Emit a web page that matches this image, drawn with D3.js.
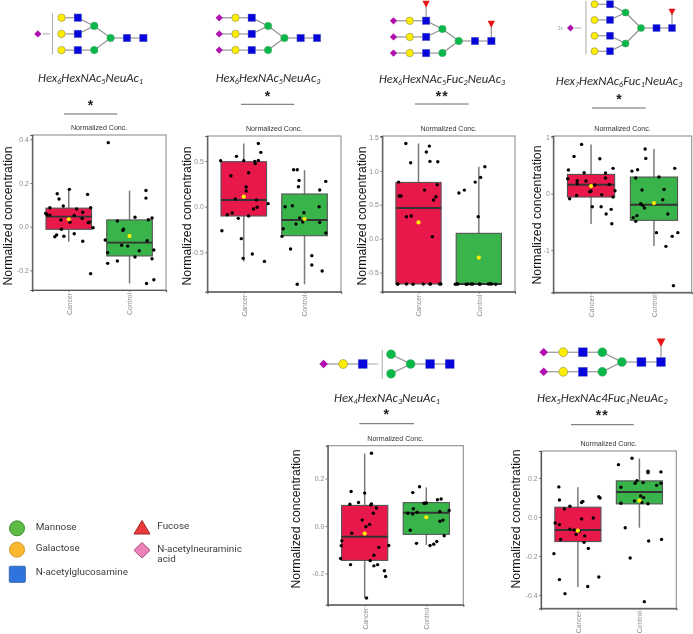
<!DOCTYPE html>
<html><head><meta charset="utf-8">
<script src="https://cdn.jsdelivr.net/npm/d3@7"></script>
<style>html,body{margin:0;background:#fff}svg{display:block;filter:blur(.35px)}</style></head>
<body><svg id="c" width="693" height="634"></svg>
<script>
// ---------- data ----------
const categories = ["Cancer", "Control"];
const yLabel = "Normalized concentration", panelTitle = "Normalized Conc.";

// box stats: [whiskerLow, q1, median, q3, whiskerHigh, mean]
const p1CancerBox=[-.069,-.012,.046,.085,.171,.034], p1ControlBox=[-.26,-.134,-.073,.031,.165,-.043];
const p1CancerX=[-.38,-.36,-.31,-.31,-.19,-.16,-.09,.13,.23,.31,.01,.36,.09,.22,-.13,.02,.32,.34,.40,-.12,-.20,-.23,-.08,.09,.23,.36];
const p1CancerY=[.061,.055,.087,.053,.151,.127,.095,.081,.066,.148,.171,.087,.052,.038,.031,.02,.018,.021,-.005,-.012,-.038,-.046,-.044,-.032,-.067,-.215];
const p1ControlX=[-.35,.27,.27,.09,.37,.31,-.20,-.10,-.11,-.40,.29,-.13,-.03,.16,.40,-.36,.09,.37,-.20,-.36,.28,.40];
const p1ControlY=[.385,.166,.131,.043,.04,.032,.026,-.012,-.017,-.061,-.064,-.085,-.089,-.11,-.107,-.119,-.139,-.147,-.157,-.168,-.26,-.243];

const p2CancerBox=[-.60,-.102,.073,.493,.693,.11], p2ControlBox=[-.85,-.318,-.146,.139,.40,-.135];
const p2CancerX=[.24,.28,-.12,-.38,0,.18,.24,.19,-.21,.08,.04,.04,-.14,.21,.40,.22,.16,-.19,-.27,.08,-.09,-.36,-.04,-.01,.14,.34];
const p2CancerY=[.693,.595,.551,.504,.504,.496,.507,.471,.339,.372,.215,.172,.084,.073,.033,-.007,-.026,-.069,-.088,-.102,-.128,-.263,-.35,-.566,-.518,-.599];
const p2ControlX=[-.18,-.12,-.09,-.10,.35,.25,-.32,-.20,.24,-.01,-.08,-.03,-.14,.25,-.35,.35,-.37,-.23,.12,.12,.29,-.12];
const p2ControlY=[.405,.405,.288,.219,.277,.182,0,.011,0,-.066,-.124,-.168,-.19,-.172,-.241,-.288,-.325,-.464,-.536,-.639,-.704,-.85];

const p3CancerBox=[-.668,-.668,.452,.83,1.405,.24], p3ControlBox=[-.668,-.668,-.668,.079,1.061,-.28];
const p3CancerX=[-.21,.18,.13,-.13,.19,.32,-.33,.31,.10,-.32,-.29,.29,.25,-.20,-.12,.23,-.35,-.34,-.20,-.09,.08,.19,.20,.35,.37];
const p3CancerY=[1.405,1.366,1.278,1.12,1.14,1.135,.835,.796,.717,.629,.629,.619,.57,.324,.334,.03,-.668,-.668,-.668,-.672,-.668,-.668,-.668,-.668,-.668];
const p3ControlX=[.10,.03,-.06,-.24,-.33,-.01,-.39,-.36,-.35,-.21,-.19,-.13,-.10,.01,.02,.16,.19,.21,.28];
const p3ControlY=[1.061,.904,.835,.717,.673,.324,-.672,-.668,-.668,-.672,-.668,-.668,-.668,-.668,-.672,-.668,-.665,-.668,-.672];

const p4CancerBox=[-.538,-.059,.16,.343,.876,.136], p4ControlBox=[-.93,-.473,-.195,.296,.793,-.166];
const p4CancerX=[-.15,-.27,.14,.35,-.36,-.11,.23,-.37,.23,-.22,-.08,-.22,.06,.29,0,-.02,.38,.17,-.23,.35,-.34,.02,.16,.32,.24,.33];
const p4CancerY=[.876,.663,.621,.45,.42,.373,.367,.266,.278,.231,.225,.178,.154,.166,.047,.036,.053,-.018,-.03,-.059,-.089,-.231,-.231,-.278,-.361,-.533];
const p4ControlX=[-.14,-.13,-.26,-.35,.33,-.29,.08,-.19,.16,.14,-.21,-.18,-.15,.22,-.27,-.33,-.29,.04,.38,.29,.19,.31];
const p4ControlY=[.793,.627,.426,.402,.45,.278,.296,.065,.077,-.107,-.178,-.207,-.254,-.361,-.39,-.426,-.491,-.692,-.692,-.757,-.935,-1.633];

const p5CancerBox=[-.304,-.145,-.045,.087,.306,-.032], p5ControlBox=[-.08,-.035,.056,.099,.163,.037];
const p5CancerX=[.11,-.22,0,-.10,-.24,.11,.10,.19,.14,-.04,.08,.02,-.21,-.37,-.38,.39,.23,.15,-.39,.09,-.23,.21,.15,.32,.34,.03];
const p5CancerY=[.307,.146,.139,.099,.092,.093,.089,.076,.054,.025,.007,-.003,-.03,-.062,-.083,-.082,-.09,-.123,-.137,-.146,-.163,-.163,-.168,-.189,-.213,-.304];
const p5ControlX=[-.11,-.22,.18,.24,-.04,0,-.02,-.21,.37,.22,-.30,-.22,-.15,.27,.22,-.26,.29,-.16,.06,.12,.17];
const p5ControlY=[.166,.141,.111,.114,.096,.097,.096,.073,.066,.061,.054,.051,.058,.025,.02,-.018,-.041,-.073,-.082,-.077,-.065];

const p6CancerBox=[-.359,-.126,-.067,.05,.152,-.07], p6ControlBox=[-.055,.067,.128,.185,.299,.084];
const p6CancerX=[-.31,-.30,.34,.36,.08,.06,-.13,-.22,.25,.06,-.37,-.30,-.13,-.06,.02,-.03,.11,-.28,.10,.17,-.39,.34,-.30,.16,-.21];
const p6CancerY=[.154,.087,.104,.097,.08,.074,.055,.041,-.005,-.01,-.031,-.039,-.063,-.067,-.074,-.089,-.097,-.115,-.13,-.161,-.188,-.308,-.321,-.356,-.393];
const p6ControlX=[-.12,-.34,.14,.14,.35,-.04,-.07,.06,-.30,.28,.35,.02,.07,-.08,.04,-.30,.14,-.23,.15,.36,-.15,.08];
const p6ControlY=[.301,.268,.234,.227,.231,.186,.173,.176,.152,.162,.173,.108,.099,.082,.074,.07,.068,-.055,-.123,-.115,-.21,-.434];

const legendItems=["Mannose","Galactose","N-acetylglucosamine","Fucose","N-acetylneuraminic acid"];

// ---------- layout ----------
const f1=v=>d3.format(".1f")(v).replace("\u2212","-"), f0=v=>String(v);
const panels=[
 {x:[32.3,166],  y:[135,290],    dom:[.42,-.29],    ticks:[.4,.2,0,-.2],        fmt:f1, tx:12,  ty:216, d:[p1CancerBox,p1ControlBox,p1CancerX,p1CancerY,p1ControlX,p1ControlY]},
 {x:[207.3,341], y:[136,291.7],  dom:[.774,-.931],  ticks:[.5,0,-.5],           fmt:f1, tx:191, ty:216, d:[p2CancerBox,p2ControlBox,p2CancerX,p2CancerY,p2ControlX,p2ControlY]},
 {x:[382.3,515], y:[136,291.7],  dom:[1.515,-.782], ticks:[1.5,1,.5,0,-.5],     fmt:f1, tx:366, ty:216, d:[p3CancerBox,p3ControlBox,p3CancerX,p3CancerY,p3ControlX,p3ControlY]},
 {x:[553.3,691.7],y:[136,292.3], dom:[1.025,-1.751],ticks:[1,0,-1],             fmt:f0, tx:541, ty:215, d:[p4CancerBox,p4ControlBox,p4CancerX,p4CancerY,p4ControlX,p4ControlY]},
 {x:[327.7,463.3],y:[445.7,604.7],dom:[.339,-.332], ticks:[.2,0,-.2],           fmt:f1, tx:300, ty:519, d:[p5CancerBox,p5ControlBox,p5CancerX,p5CancerY,p5ControlX,p5ControlY]},
 {x:[541,676.3], y:[451,608.3],  dom:[.338,-.468],  ticks:[.2,0,-.2,-.4],       fmt:f1, tx:519.5,ty:519,d:[p6CancerBox,p6ControlBox,p6CancerX,p6CancerY,p6ControlX,p6ControlY]}
];
const svg=d3.select("#c");
const FILL=["#e8184b","#39b44a"];
const sans="'Liberation Sans',Arial,sans-serif";

panels.forEach(p=>{
  const g=svg.append("g");
  const x=d3.scaleLinear().domain([.4,2.6]).range(p.x);
  const y=d3.scaleLinear().domain(p.dom).range(p.y);
  g.append("rect").attr("x",p.x[0]).attr("y",p.y[0]).attr("width",p.x[1]-p.x[0]).attr("height",p.y[1]-p.y[0])
    .attr("fill","#fff").attr("stroke","#8f8f8f").attr("stroke-width",1.1);
  const ax=g.append("g").attr("transform",`translate(${p.x[0]},0)`)
    .call(d3.axisLeft(y).tickValues(p.ticks).tickFormat(p.fmt).tickSize(2).tickPadding(1.5));
  const bx=g.append("g").attr("transform",`translate(0,${p.y[1]})`)
    .call(d3.axisBottom(x).tickValues([1,2]).tickFormat(i=>categories[i-1]).tickSize(2));
  [ax,bx].forEach(a=>{a.select(".domain").attr("stroke","#555").attr("stroke-width",1.2);a.selectAll(".tick line").attr("stroke","#777");
    a.selectAll("text").attr("fill","#8a8a8a").attr("font-family",sans).attr("font-size",6.8);});
  bx.selectAll("text").attr("transform","rotate(-90)").attr("text-anchor","end").attr("x",-3).attr("y",0).attr("dy","0.35em");
  g.append("text").text(panelTitle).attr("x",(p.x[0]+p.x[1])/2).attr("y",p.y[0]-5).attr("text-anchor","middle")
    .attr("font-family",sans).attr("font-size",7.1).attr("fill","#333");
  g.append("text").text(yLabel).attr("transform",`translate(${p.tx},${p.ty}) rotate(-90)`).attr("text-anchor","middle")
    .attr("font-family",sans).attr("font-size",13).attr("fill","#111").attr("textLength",139).attr("lengthAdjust","spacingAndGlyphs");
  [0,1].forEach(i=>{
    const b=p.d[i], c=i+1, hw=.375;
    g.append("line").attr("x1",x(c)).attr("x2",x(c)).attr("y1",y(b[0])).attr("y2",y(b[4])).attr("stroke","#7a7a7a").attr("stroke-width",1.5);
    g.append("rect").attr("x",x(c-hw)).attr("width",x(c+hw)-x(c-hw)).attr("y",y(b[3])).attr("height",y(b[1])-y(b[3]))
      .attr("fill",FILL[i]).attr("stroke","#555").attr("stroke-width",1.1);
    g.append("line").attr("x1",x(c-hw)).attr("x2",x(c+hw)).attr("y1",y(b[2])).attr("y2",y(b[2])).attr("stroke","#333").attr("stroke-width",1.9);
    const xs=p.d[2+i*2], ys=p.d[3+i*2];
    g.append("g").selectAll("circle").data(ys).join("circle")
      .attr("cx",(d,k)=>x(c+xs[k])).attr("cy",d=>y(d)).attr("r",1.7).attr("fill","#000");
    g.append("circle").attr("cx",x(c)).attr("cy",y(b[5])).attr("r",2.1).attr("fill","#ffee00");
  });
});

// ---------- glycan icons ----------
// residue: [type, column from reducing end, row, parent index]
const triCore=[["n",0,0,-1],["n",1,0,0],["m",2,0,1],["m",3,-.74,2],["m",3,.74,2]];
const tri=[["n",4,-1.24,3],["n",4,-.25,3],["n",4,.74,4],["g",5,-1.24,5],["g",5,-.25,6],["g",5,.74,7]];
const triSia=[["s",6,-1.24,8],["s",6,-.25,9],["s",6,.74,10]];
const glycans=[
 {x0:143.3,y0:38,step:16.35,res:[...triCore,...tri,["s",6.45,-.25,-1]],bracket:[5.55,-1.5,1.0],stub:[6.15,5.7,-.25]},
 {x0:317,y0:38,step:16.3,res:[...triCore,...tri,...triSia]},
 {x0:491.3,y0:41,step:16.3,res:[...triCore,...tri,...triSia,["f",4,-2.27,5],["f",0,-1.04,0]]},
 {x0:672,y0:28,step:15.5,res:[["n",0,0,-1],["n",1,0,0],["m",2,0,1],["m",3,-1,2],["m",3,1,2],
    ["n",4,-1.53,3],["n",4,-.52,3],["n",4,.5,4],["n",4,1.5,4],["g",5,-1.53,5],["g",5,-.52,6],["g",5,.5,7],["g",5,1.5,8],
    ["s",6.55,0,-1],["f",0,-1.05,0]],bracket:[5.55,-1.75,1.7],stub:[6.3,5.85,0],mult:[7.2,0]},
 {x0:449.7,y0:364,step:19.55,res:[["n",0,0,-1],["n",1,0,0],["m",2,0,1],["m",3,-.5,2],["m",3,.5,2],["n",4.45,0,-1],["g",5.45,0,5],["s",6.45,0,6]],
    bracket:[3.45,-.72,.76],stub:[4.45,3.65,0]},
 {x0:661,y0:362,step:19.55,res:[["n",0,0,-1],["n",1,0,0],["m",2,0,1],["m",3,-.5,2],["m",3,.5,2],["n",4,-.5,3],["n",4,.5,4],["g",5,-.5,5],["g",5,.5,6],["s",6,-.5,7],["s",6,.5,8],["f",0,-1,0]]}
];
const glyc=svg.append("g");
glycans.forEach(G=>{
  const s=G.step, col=d3.scaleLinear().domain([0,1]).range([G.x0,G.x0-s]), row=d3.scaleLinear().domain([0,1]).range([G.y0,G.y0+s]);
  const k=s/16.3, g=glyc.append("g");
  G.res.forEach(r=>{ if(r[3]>=0){const q=G.res[r[3]];
    g.append("line").attr("x1",col(r[1])).attr("y1",row(r[2])).attr("x2",col(q[1])).attr("y2",row(q[2])).attr("stroke","#8c8c8c").attr("stroke-width",1.1);}});
  if(G.bracket){g.append("line").attr("x1",col(G.bracket[0])).attr("x2",col(G.bracket[0])).attr("y1",row(G.bracket[1])).attr("y2",row(G.bracket[2])).attr("stroke","#aaa").attr("stroke-width",1);
    g.append("line").attr("x1",col(G.stub[0])).attr("x2",col(G.stub[1])).attr("y1",row(G.stub[2])).attr("y2",row(G.stub[2])).attr("stroke","#aaa").attr("stroke-width",1);}
  if(G.mult) g.append("text").text("3x").attr("x",col(G.mult[0])).attr("y",row(G.mult[1])+1.5).attr("text-anchor","middle").attr("font-family",sans).attr("font-size",4.5).attr("fill","#999");
  G.res.forEach(r=>{
    const X=col(r[1]),Y=row(r[2]);
    if(r[0]==="n") g.append("rect").attr("x",X-3.8*k).attr("y",Y-3.8*k).attr("width",7.6*k).attr("height",7.6*k).attr("fill","#0505dc").attr("stroke","#7f8fc0").attr("stroke-width",.4);
    if(r[0]==="m") g.append("circle").attr("cx",X).attr("cy",Y).attr("r",3.8*k).attr("fill","#0ab84a").attr("stroke","#6f9f7f").attr("stroke-width",.4);
    if(r[0]==="g") g.append("circle").attr("cx",X).attr("cy",Y).attr("r",3.7*k).attr("fill","#ffee00").attr("stroke","#8a8a50").attr("stroke-width",.6);
    if(r[0]==="s") g.append("path").attr("d",d3.line()([[X-3.6*k,Y],[X,Y-3.6*k],[X+3.6*k,Y],[X,Y+3.6*k]])+"Z").attr("fill","#b010b0");
    if(r[0]==="f") g.append("path").attr("d",d3.line()([[X-3.7*k,Y-3.2*k],[X+3.7*k,Y-3.2*k],[X,Y+3.6*k]])+"Z").attr("fill","#e81414");
  });
});

// ---------- composition labels ----------
const compNames=[
 [["Hex",0],["6",1],["HexNAc",0],["5",1],["NeuAc",0],["1",1]],
 [["Hex",0],["6",1],["HexNAc",0],["5",1],["NeuAc",0],["3",1]],
 [["Hex",0],["6",1],["HexNAc",0],["5",1],["Fuc",0],["2",1],["NeuAc",0],["3",1]],
 [["Hex",0],["7",1],["HexNAc",0],["6",1],["Fuc",0],["1",1],["NeuAc",0],["3",1]],
 [["Hex",0],["4",1],["HexNAc",0],["3",1],["NeuAc",0],["1",1]],
 [["Hex",0],["5",1],["HexNAc4Fuc",0],["1",1],["NeuAc",0],["2",1]]
];
const labelPos=[[90.5,82,105],[268,82,104.5],[442,83,126],[619,85,126.5],[387,401.7,106],[602.3,401.7,130.5]];
const sigMarks=["*","*","**","*","*","**"];
const sigPos=[[90.5,103.7,64,117.3,114],[267.5,94,241,294.3,104.3],[442.3,94,415,468.7,104],[619,97,592,645.7,108],[386.3,412.7,359.3,414,423.7],[602.3,413,571,633.7,424.7]];
compNames.forEach((n,i)=>{
  const [cx,by,w]=labelPos[i];
  const t=svg.append("text").attr("x",cx).attr("y",by).attr("text-anchor","middle").attr("font-family","Carlito,'Open Sans',sans-serif").attr("font-style","italic")
    .attr("font-size",11.6).attr("fill","#2c2c2c").attr("textLength",w).attr("lengthAdjust","spacingAndGlyphs");
  n.forEach(([s,sub],k)=>{
    t.append("tspan").text(s).attr("font-size",sub?7.4:11.6).attr("dy",sub?2.2:(k?-2.2:0));
  });
  const [sx,sy,l0,l1,ly]=sigPos[i];
  svg.append("text").text(sigMarks[i]).attr("x",sx).attr("y",sy+6.5).attr("text-anchor","middle").attr("font-family",sans).attr("font-weight","bold").attr("font-size",14).attr("letter-spacing",sigMarks[i].length>1?1:0).attr("fill","#222");
  svg.append("line").attr("x1",l0).attr("x2",l1).attr("y1",ly).attr("y2",ly).attr("stroke","#666").attr("stroke-width",1);
});

// ---------- legend ----------
const lg=svg.append("g");
const lf="Roboto,sans-serif";
lg.append("circle").attr("cx",17).attr("cy",528.3).attr("r",7.5).attr("fill","#5dbb46").attr("stroke","#3f8c33");
lg.append("circle").attr("cx",17).attr("cy",549.7).attr("r",7.5).attr("fill","#fbb82e").attr("stroke","#d1982a");
lg.append("rect").attr("x",9.3).attr("y",566.3).attr("width",16).attr("height",16).attr("rx",1).attr("fill","#2f74dc").attr("stroke","#3a6ab0");
lg.append("path").attr("d",d3.line()([[142,520.5],[150,534],[134,534]])+"Z").attr("fill","#e83a3a").attr("stroke","#9e2525");
lg.append("path").attr("d",d3.line()([[142,542.5],[150,550.3],[142,558],[134,550.3]])+"Z").attr("fill","#ee82b8").attr("stroke","#a04b7d");
const legText=[[35.7,530,legendItems[0]],[35.7,551,legendItems[1]],[35.7,574.7,legendItems[2]],[157.3,528.7,legendItems[3]],[157.3,552.3,"N-acetylneuraminic"],[157.3,562,"acid"]];
lg.selectAll("text").data(legText).join("text").attr("x",d=>d[0]).attr("y",d=>d[1]).text(d=>d[2])
  .attr("font-family",lf).attr("font-size",9.9).attr("fill","#3c3c3c");
</script></body></html>
